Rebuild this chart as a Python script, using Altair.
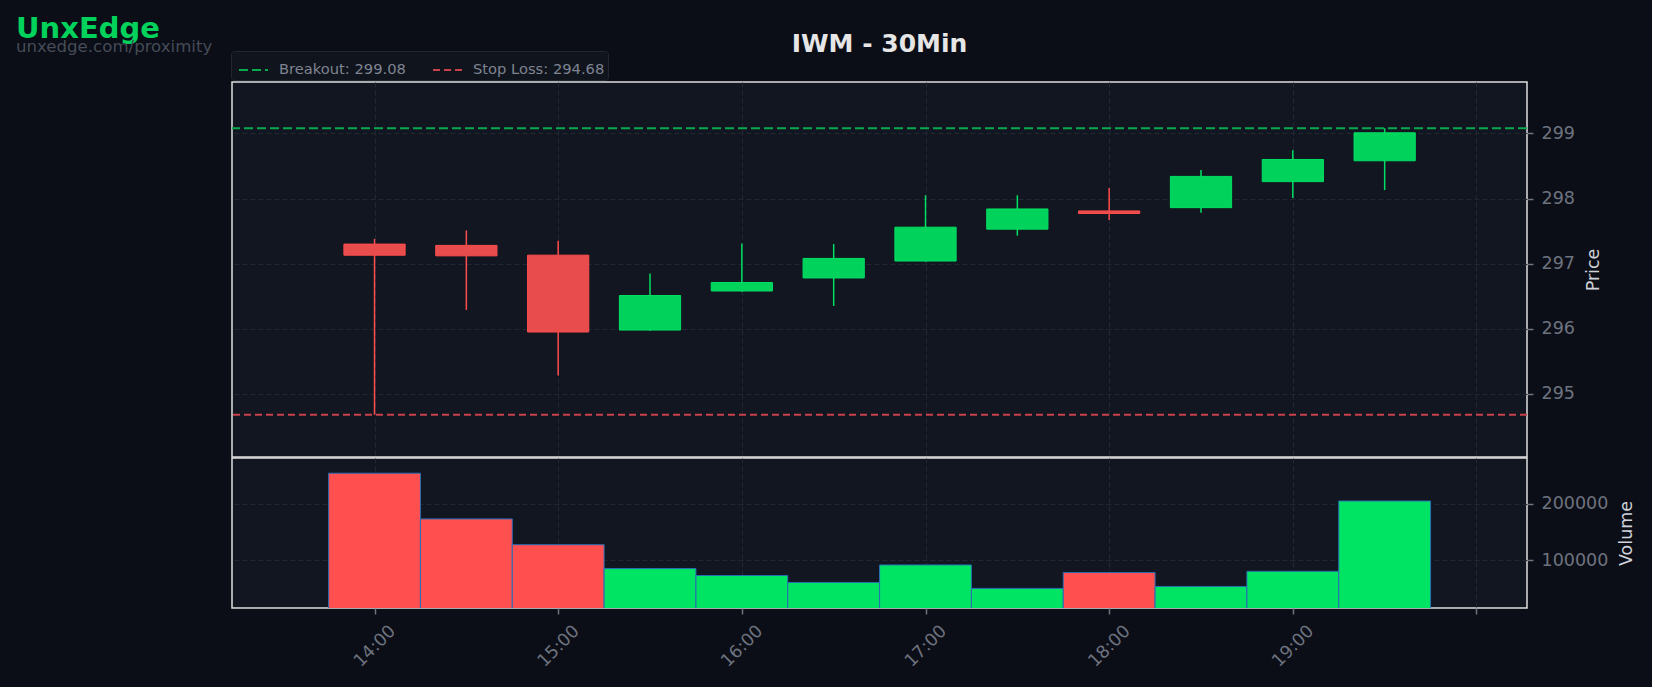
import altair as alt
import numpy as np
import pandas as pd

# ---- data ----
times = ["14:00", "14:30", "15:00", "15:30", "16:00", "16:30",
         "17:00", "17:30", "18:00", "18:30", "19:00", "19:30"]
opens = [297.30, 297.28, 297.13, 295.98, 296.58, 296.78,
         297.04, 297.53, 297.81, 297.86, 298.26, 298.58]
highs = [297.38, 297.51, 297.35, 296.85, 297.31, 297.30,
         298.05, 298.05, 298.16, 298.44, 298.74, 299.08]
lows = [294.68, 296.29, 295.28, 295.97, 296.57, 296.35,
        297.03, 297.43, 297.67, 297.78, 298.01, 298.13]
closes = [297.13, 297.12, 295.95, 296.51, 296.71, 297.08,
          297.56, 297.84, 297.77, 298.34, 298.60, 299.01]
volumes = [254700, 173500, 127700, 85400, 73000, 60700,
           91800, 50100, 78300, 53600, 80500, 205300]
breakout = 299.08
stop_loss = 294.68
hour_ticks = [14, 15, 16, 17, 18, 19, 20]
price_ticks = [295, 296, 297, 298, 299]
volume_ticks = [100000, 200000]

# ---- styling ----
PAGE_BG = "#0b0e16"
PLOT_BG = "#121620"
GREEN_WICK, RED_WICK = "#00e064", "#ff4d4d"
GREEN_BODY, RED_BODY = "#00d25b", "#e84c4c"
GREEN_VOL, RED_VOL = "#00e463", "#ff4f4f"
FONT = "DejaVu Sans"

W = 1295
H_PRICE = 375
H_VOL = 150

df = pd.DataFrame({"time": times, "open": opens, "high": highs,
                   "low": lows, "close": closes, "volume": volumes})
df["t"] = [int(s.split(":")[0]) + int(s.split(":")[1]) / 60 for s in times]
up = df["close"] >= df["open"]
df["b0"] = df["t"] - 1 / 6
df["b1"] = df["t"] + 1 / 6
df["v0"] = df["t"] - 0.25
df["v1"] = df["t"] + 0.25
df["wick_c"] = np.where(up, GREEN_WICK, RED_WICK)
df["body_f"] = np.where(up, GREEN_BODY, RED_BODY)
df["body_s"] = np.where(up, GREEN_WICK, RED_WICK)
df["vol_c"] = np.where(up, GREEN_VOL, RED_VOL)

levels = pd.DataFrame({
    "label": [f"Breakout: {breakout:.2f}", f"Stop Loss: {stop_loss:.2f}"],
    "level": [breakout, stop_loss],
})

x_scale = alt.Scale(domain=[13.224, 20.275], nice=False, zero=False)
y_price = alt.Scale(domain=[294.03, 299.79], nice=False, zero=False)
y_vol = alt.Scale(domain=[15350, 281660], nice=False, zero=False)

x_price_axis = alt.Axis(values=hour_ticks, labels=False, ticks=False,
                        domain=False, title=None, grid=True)
x_vol_axis = alt.Axis(values=hour_ticks, grid=True, title=None,
                      labelExpr="datum.value < 20 ? format(datum.value, 'd') + ':00' : ''",
                      labelAngle=315, labelAlign="center", labelBaseline="middle",
                      labelPadding=32, labelOverlap=False, labelBound=False)

base = alt.Chart(df)

wicks = base.mark_rule(strokeWidth=1.5).encode(
    x=alt.X("t:Q", scale=x_scale, axis=x_price_axis),
    y=alt.Y("low:Q", scale=y_price,
            axis=alt.Axis(orient="right", values=price_ticks, format="d",
                          title="Price", titleAngle=270, titleBaseline="top",
                          titlePadding=10, grid=True)),
    y2="high:Q",
    stroke=alt.Stroke("wick_c:N", scale=None),
)

bodies = base.mark_rect(strokeWidth=1).encode(
    x=alt.X("b0:Q", scale=x_scale),
    x2="b1:Q",
    y=alt.Y("open:Q", scale=y_price),
    y2="close:Q",
    fill=alt.Fill("body_f:N", scale=None),
    stroke=alt.Stroke("body_s:N", scale=None),
)

level_lines = alt.Chart(levels).mark_rule(strokeWidth=2).encode(
    y=alt.Y("level:Q", scale=y_price),
    color=alt.Color(
        "label:N",
        scale=alt.Scale(domain=levels["label"].tolist(), range=["#09aa4f", "#c9424b"]),
        legend=alt.Legend(
            title=None, orient="none", legendX=-1, legendY=-31,
            direction="horizontal", symbolType="stroke", symbolSize=841,
            symbolStrokeWidth=2, symbolDash=[6, 4], symbolOffset=4,
            labelColor="#7f8492", labelFontSize=14.7, labelFont=FONT,
            labelOffset=10, columnPadding=22,
            fillColor="#10141d", strokeColor="#222634", padding=3, cornerRadius=3,
        ),
    ),
    strokeDash=alt.StrokeDash(
        "label:N",
        scale=alt.Scale(domain=levels["label"].tolist(), range=[[9, 4], [7, 4]]),
        legend=None,
    ),
)

brand = alt.Chart(pd.DataFrame({"txt": ["UnxEdge"]})).mark_text(
    align="left", baseline="alphabetic", fontSize=29, fontWeight="bold",
    font=FONT, color="#00d25b",
).encode(x=alt.value(-216), y=alt.value(-44), text="txt:N")

url = alt.Chart(pd.DataFrame({"txt": ["unxedge.com/proximity"]})).mark_text(
    align="left", baseline="alphabetic", fontSize=16.6, font=FONT, color="#454b58",
).encode(x=alt.value(-216), y=alt.value(-30.5), text="txt:N")

title = alt.Chart(pd.DataFrame({"txt": ["IWM - 30Min"]})).mark_text(
    align="center", baseline="alphabetic", fontSize=25, fontWeight="bold",
    font=FONT, color="#e6e6e6",
).encode(x=alt.value(W / 2), y=alt.value(-30.3), text="txt:N")

price = alt.layer(wicks, bodies, level_lines, brand, url, title).properties(
    width=W, height=H_PRICE
)

vol = base.mark_rect(clip=True, stroke="#2a6db5", strokeWidth=1).encode(
    x=alt.X("v0:Q", scale=x_scale, axis=x_vol_axis),
    x2="v1:Q",
    y=alt.Y("volume:Q", scale=y_vol,
            axis=alt.Axis(orient="right", values=volume_ticks, format="d",
                          title="Volume", titleAngle=270, titleBaseline="top",
                          titlePadding=10, grid=True)),
    y2=alt.datum(0),
    fill=alt.Fill("vol_c:N", scale=None),
).properties(width=W, height=H_VOL)

chart = alt.vconcat(price, vol, spacing=-1.5).resolve_scale(
    color="independent", strokeDash="independent"
).resolve_legend(color="independent").properties(
    padding={"left": 15, "top": 14, "right": 15, "bottom": 16}
).configure(
    background=PAGE_BG, font=FONT
).configure_view(
    fill=PLOT_BG, stroke="#e0e0e0", strokeWidth=1.5
).configure_axis(
    gridColor="#222735", gridDash=[5, 3], gridWidth=1, domain=False,
    tickColor="#6e7380", tickSize=6, tickWidth=1.5,
    labelColor="#6e7380", labelFontSize=17.5, labelFont=FONT, labelPadding=8,
    titleColor="#d0d3da", titleFontSize=17.5, titleFontWeight="normal", titleFont=FONT,
)

chart.save("out.html", embed_options={"renderer": "svg", "actions": False})
